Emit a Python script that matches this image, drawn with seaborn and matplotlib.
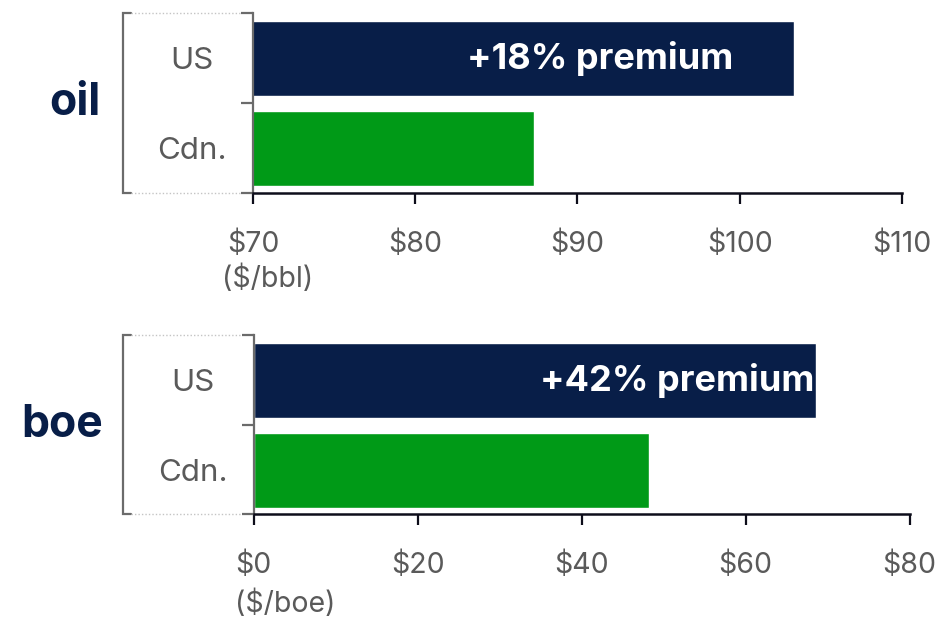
import matplotlib
matplotlib.use("Agg")
import matplotlib.pyplot as plt
import matplotlib.transforms as mtransforms
import seaborn as sns

# data
categories = ["US", "Cdn."]
oil_prices = [103.35, 87.3]
boe_prices = [68.6, 48.2]
oil_premium = "+18% premium"
boe_premium = "+42% premium"
oil_ticks = [70, 80, 90, 100, 110]
boe_ticks = [0, 20, 40, 60, 80]

NAVY = "#081E48"
GREEN = "#009A17"
GRAY_TEXT = "#5a5a5a"
SPINE_GRAY = "#6b6b6b"

sns.set_style("white")
plt.rcParams["font.family"] = ["Inter", "DejaVu Sans"]

fig = plt.figure(figsize=(9.43, 6.23), dpi=100)
ax_oil = fig.add_axes([0.2683, 0.6910, 0.6882, 0.2877])
ax_boe = fig.add_axes([0.2690, 0.1745, 0.6957, 0.2873])


def draw_panel(ax, values, ticks, title, title_x, unit, unit_x, unit_y,
               premium, premium_x):
    sns.barplot(x=values, y=categories, hue=categories, palette=[NAVY, GREEN],
                orient="h", width=0.833, saturation=1, legend=False, ax=ax)
    ax.set_xlim(ticks[0], ticks[-1])
    ax.set_ylim(1.49, -0.5)
    ax.set_xlabel("")
    ax.set_ylabel("")

    for side in ["top", "right"]:
        ax.spines[side].set_visible(False)
    ax.spines["left"].set_color(SPINE_GRAY)
    ax.spines["left"].set_linewidth(1.6)
    ax.spines["bottom"].set_color("#0d0d1a")
    ax.spines["bottom"].set_linewidth(1.8)

    ax.set_xticks(ticks)
    ax.set_xticklabels([f"${t}" for t in ticks])
    ax.tick_params(axis="x", bottom=True, direction="out", length=8, width=1.6,
                   color="#0d0d1a", labelsize=20.5, labelcolor=GRAY_TEXT, pad=19)

    # category boundaries get ticks, category names sit on minor ticks
    ax.set_yticks([-0.5, 0.5, 1.49])
    ax.set_yticklabels([])
    ax.tick_params(axis="y", which="major", left=True, direction="out", length=9,
                   width=1.6, color=SPINE_GRAY)
    ax.set_yticks([0, 1], minor=True)
    ax.set_yticklabels(categories, minor=True)
    ax.tick_params(axis="y", which="minor", left=True, length=0, pad=44,
                   labelsize=22.5, labelcolor=GRAY_TEXT)
    for lab in ax.get_yticklabels(minor=True):
        lab.set_horizontalalignment("center")

    # bracket on the left with dotted top/bottom edges
    w = ax.get_position().width * fig.get_figwidth() * fig.dpi
    xb = -130.5 / w
    xt = 8 / w
    xd = -12 / w
    ax.plot([xb + xt, xb, xb, xb + xt], [1, 1, 0, 0],
            transform=ax.transAxes, color=SPINE_GRAY, lw=1.6,
            clip_on=False, solid_joinstyle="miter")
    for yy in [1, 0]:
        ax.plot([xb + xt, xd], [yy, yy], transform=ax.transAxes,
                color="#c4c4c4", lw=1.0, ls=(0, (1, 1.5)), clip_on=False)

    trans = mtransforms.blended_transform_factory(ax.transData, ax.transAxes)
    ax.text(unit_x, unit_y, unit, transform=trans, ha="center", va="center",
            fontsize=20.5, color=GRAY_TEXT)
    ax.text(premium_x, 0, premium, ha="center", va="center",
            fontsize=26, fontweight="bold", color="white")
    ax.text(title_x / w, 0.5, title, transform=ax.transAxes, ha="right",
            va="center", fontsize=32, fontweight="bold", color=NAVY)


draw_panel(ax_oil, oil_prices, oil_ticks, "oil", -153, "($/bbl)", 70.9, -0.48,
           oil_premium, 91.4)
draw_panel(ax_boe, boe_prices, boe_ticks, "boe", -151, "($/boe)", 3.9, -0.5,
           boe_premium, 51.6)

fig.savefig("out.png", dpi=100)
